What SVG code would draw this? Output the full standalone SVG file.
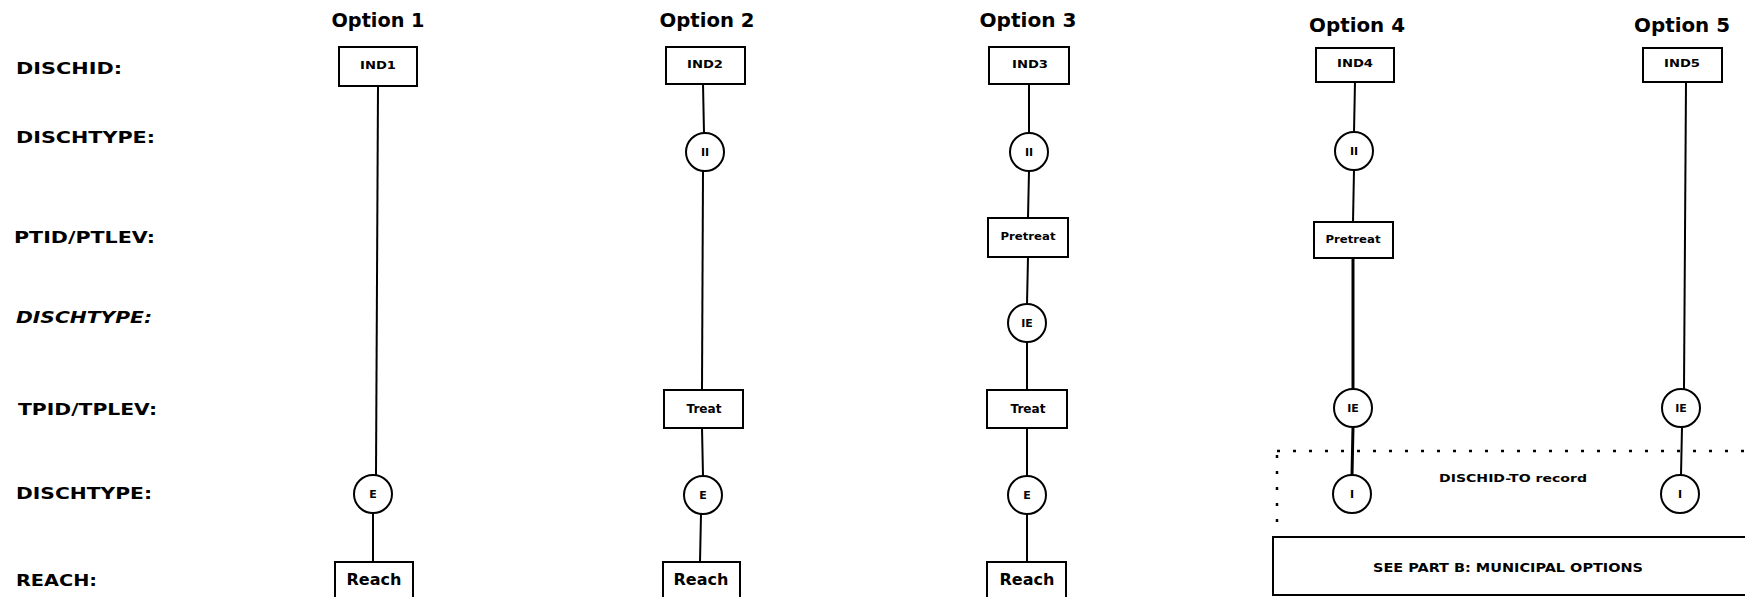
<svg xmlns="http://www.w3.org/2000/svg" width="1745" height="597" viewBox="0 0 1745 597">
  <style>
    text { font-family: "DejaVu Sans", "Liberation Sans", sans-serif; font-weight: bold; fill: #000; }
    .opt { font-size: 19px; text-anchor: middle; }
    .row { font-size: 16px; }
    .nt { font-size: 10px; text-anchor: middle; }
    .nm { font-size: 12px; text-anchor: middle; }
    .nl { font-size: 15px; text-anchor: middle; }
    .ct { font-size: 11px; text-anchor: middle; }
    .box { fill: #fff; stroke: #000; stroke-width: 2; }
    .dot { fill: #fff; stroke: #000; stroke-width: 2; }
    .link { stroke: #000; stroke-width: 2; fill: none; }
    .heavy { stroke-width: 3; }
    .bound { stroke: #000; stroke-width: 2.5; fill: none; stroke-dasharray: 3 13; }
  </style>

  <rect width="1745" height="597" fill="#fff"/>

  <!-- column headings -->
  <g id="headings">
    <text class="opt" x="378" y="27" textLength="93" lengthAdjust="spacingAndGlyphs">Option 1</text>
    <text class="opt" x="707" y="27" textLength="95" lengthAdjust="spacingAndGlyphs">Option 2</text>
    <text class="opt" x="1028" y="27" textLength="97" lengthAdjust="spacingAndGlyphs">Option 3</text>
    <text class="opt" x="1357" y="32" textLength="96" lengthAdjust="spacingAndGlyphs">Option 4</text>
    <text class="opt" x="1682" y="32" textLength="96" lengthAdjust="spacingAndGlyphs">Option 5</text>
  </g>

  <!-- record level labels -->
  <g id="row-labels">
    <text class="row" x="16" y="74" textLength="106" lengthAdjust="spacingAndGlyphs">DISCHID:</text>
    <text class="row" x="16" y="143" textLength="139" lengthAdjust="spacingAndGlyphs">DISCHTYPE:</text>
    <text class="row" x="14" y="243" textLength="141" lengthAdjust="spacingAndGlyphs">PTID/PTLEV:</text>
    <text class="row" x="16" y="323" textLength="136" lengthAdjust="spacingAndGlyphs" font-style="italic">DISCHTYPE:</text>
    <text class="row" x="18" y="415" textLength="139" lengthAdjust="spacingAndGlyphs">TPID/TPLEV:</text>
    <text class="row" x="16" y="499" textLength="136" lengthAdjust="spacingAndGlyphs">DISCHTYPE:</text>
    <text class="row" x="16" y="586" textLength="81" lengthAdjust="spacingAndGlyphs">REACH:</text>
  </g>

  <!-- connectors -->
  <g id="connectors">
    <!-- option 1 -->
    <line class="link" x1="378" y1="86" x2="376" y2="475"/>
    <line class="link" x1="373" y1="513" x2="373" y2="562"/>
    <!-- option 2 -->
    <line class="link" x1="703" y1="84" x2="704" y2="133"/>
    <line class="link" x1="703" y1="171" x2="702" y2="390"/>
    <line class="link" x1="702" y1="428" x2="703" y2="476"/>
    <line class="link" x1="701" y1="514" x2="700" y2="562"/>
    <!-- option 3 -->
    <line class="link" x1="1029" y1="84" x2="1029" y2="133"/>
    <line class="link" x1="1029" y1="171" x2="1028" y2="218"/>
    <line class="link" x1="1028" y1="257" x2="1027" y2="304"/>
    <line class="link" x1="1027" y1="342" x2="1027" y2="390"/>
    <line class="link" x1="1027" y1="428" x2="1027" y2="476"/>
    <line class="link" x1="1027" y1="514" x2="1027" y2="562"/>
    <!-- option 4 -->
    <line class="link" x1="1355" y1="82" x2="1354" y2="132"/>
    <line class="link" x1="1354" y1="170" x2="1353" y2="222"/>
    <line class="link heavy" x1="1353" y1="258" x2="1353" y2="389"/>
    <line class="link heavy" x1="1353" y1="427" x2="1352" y2="475"/>
    <!-- option 5 -->
    <line class="link" x1="1686" y1="82" x2="1684" y2="389"/>
    <line class="link" x1="1682" y1="427" x2="1681" y2="475"/>
  </g>

  <!-- option 1 -->
  <g id="ind1"><rect class="box" x="339" y="47" width="78" height="39"/><text class="nt" x="378" y="69" textLength="36" lengthAdjust="spacingAndGlyphs">IND1</text></g>
  <g id="e1"><circle class="dot" cx="373" cy="494" r="19"/><text class="ct" x="373" y="498">E</text></g>
  <g id="reach1"><rect class="box" x="335" y="562" width="78" height="50"/><text class="nl" x="374" y="585" textLength="55" lengthAdjust="spacingAndGlyphs">Reach</text></g>

  <!-- option 2 -->
  <g id="ind2"><rect class="box" x="666" y="47" width="79" height="37"/><text class="nt" x="705" y="68" textLength="36" lengthAdjust="spacingAndGlyphs">IND2</text></g>
  <g id="ii2"><circle class="dot" cx="705" cy="152" r="19"/><text class="ct" x="705" y="156">II</text></g>
  <g id="treat2"><rect class="box" x="664" y="390" width="79" height="38"/><text class="nm" x="704" y="413" textLength="35" lengthAdjust="spacingAndGlyphs">Treat</text></g>
  <g id="e2"><circle class="dot" cx="703" cy="495" r="19"/><text class="ct" x="703" y="499">E</text></g>
  <g id="reach2"><rect class="box" x="663" y="562" width="77" height="50"/><text class="nl" x="701" y="585" textLength="55" lengthAdjust="spacingAndGlyphs">Reach</text></g>

  <!-- option 3 -->
  <g id="ind3"><rect class="box" x="989" y="47" width="80" height="37"/><text class="nt" x="1030" y="68" textLength="36" lengthAdjust="spacingAndGlyphs">IND3</text></g>
  <g id="ii3"><circle class="dot" cx="1029" cy="152" r="19"/><text class="ct" x="1029" y="156">II</text></g>
  <g id="pretreat3"><rect class="box" x="988" y="218" width="80" height="39"/><text class="ct" x="1028" y="240" textLength="55" lengthAdjust="spacingAndGlyphs">Pretreat</text></g>
  <g id="ie3"><circle class="dot" cx="1027" cy="323" r="19"/><text class="ct" x="1027" y="327">IE</text></g>
  <g id="treat3"><rect class="box" x="987" y="390" width="80" height="38"/><text class="nm" x="1028" y="413" textLength="35" lengthAdjust="spacingAndGlyphs">Treat</text></g>
  <g id="e3"><circle class="dot" cx="1027" cy="495" r="19"/><text class="ct" x="1027" y="499">E</text></g>
  <g id="reach3"><rect class="box" x="987" y="562" width="79" height="50"/><text class="nl" x="1027" y="585" textLength="55" lengthAdjust="spacingAndGlyphs">Reach</text></g>

  <!-- option 4 -->
  <g id="ind4"><rect class="box" x="1316" y="48" width="78" height="34"/><text class="nt" x="1355" y="67" textLength="36" lengthAdjust="spacingAndGlyphs">IND4</text></g>
  <g id="ii4"><circle class="dot" cx="1354" cy="151" r="19"/><text class="ct" x="1354" y="155">II</text></g>
  <g id="pretreat4"><rect class="box" x="1314" y="222" width="79" height="36"/><text class="ct" x="1353" y="243" textLength="55" lengthAdjust="spacingAndGlyphs">Pretreat</text></g>
  <g id="ie4"><circle class="dot" cx="1353" cy="408" r="19"/><text class="ct" x="1353" y="412">IE</text></g>
  <g id="i4"><circle class="dot" cx="1352" cy="494" r="19"/><text class="ct" x="1352" y="498">I</text></g>

  <!-- option 5 -->
  <g id="ind5"><rect class="box" x="1643" y="48" width="79" height="34"/><text class="nt" x="1682" y="67" textLength="36" lengthAdjust="spacingAndGlyphs">IND5</text></g>
  <g id="ie5"><circle class="dot" cx="1681" cy="408" r="19"/><text class="ct" x="1681" y="412">IE</text></g>
  <g id="i5"><circle class="dot" cx="1680" cy="494" r="19"/><text class="ct" x="1680" y="498">I</text></g>

  <!-- discharge-to record boundary -->
  <g id="dischid-to">
    <path class="bound" d="M1277,451 H1745"/>
    <path class="bound" d="M1277,455 V522" stroke-dasharray="3 18"/>
    <text class="ct" x="1513" y="482" textLength="148" lengthAdjust="spacingAndGlyphs">DISCHID-TO record</text>
  </g>

  <!-- municipal options reference -->
  <g id="municipal">
    <rect class="box" x="1273" y="537" width="490" height="58"/>
    <text class="nm" x="1508" y="572" font-size="13" textLength="270" lengthAdjust="spacingAndGlyphs">SEE PART B: MUNICIPAL OPTIONS</text>
  </g>
</svg>
